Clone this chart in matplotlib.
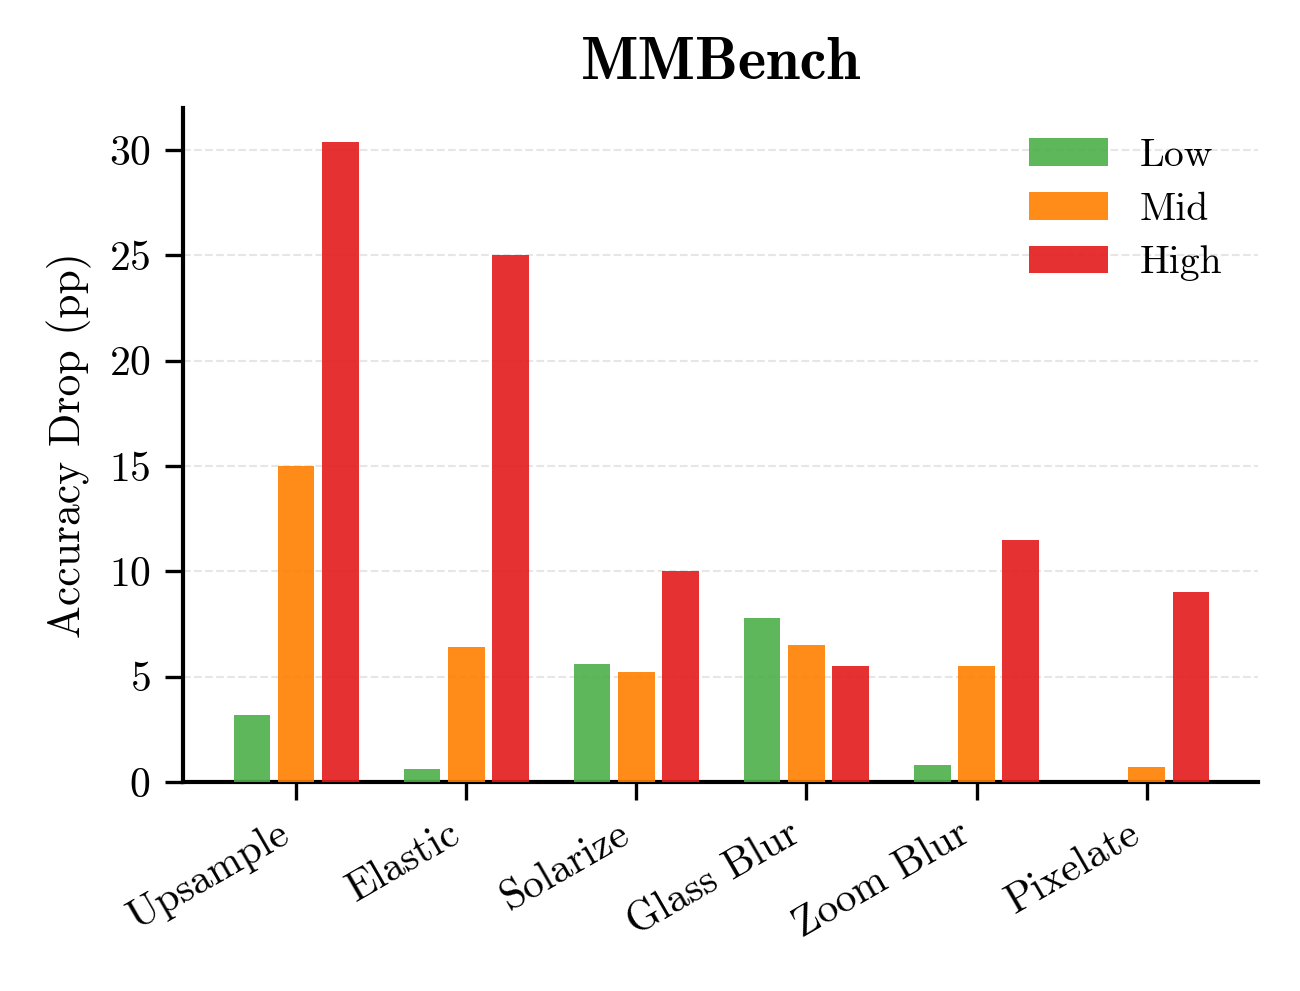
import numpy as np
import matplotlib
matplotlib.use('Agg')
import matplotlib.pyplot as plt

plt.rcParams['font.family'] = 'serif'
plt.rcParams['font.serif'] = ['cmr10']
plt.rcParams['mathtext.fontset'] = 'cm'
plt.rcParams['axes.formatter.use_mathtext'] = True

corruptions = ['Upsample', 'Elastic', 'Solarize', 'Glass Blur', 'Zoom Blur', 'Pixelate']
levels = ['Low', 'Mid', 'High']
low = [3.2, 0.6, 5.6, 7.8, 0.8, 0.0]
mid = [15.0, 6.4, 5.2, 6.5, 5.5, 0.7]
high = [30.4, 25.0, 10.0, 5.5, 11.5, 9.0]
colors = ['#4daf4a', '#ff7f00', '#e41a1c']

fig = plt.figure(figsize=(1300 / 300, 991 / 300), dpi=300)
ax = fig.add_axes([0.1408, 0.2109, 0.8269, 0.6801])

x = np.arange(len(corruptions))
width = 0.215
for i, (vals, lab) in enumerate(zip([low, mid, high], levels)):
    ax.bar(x + (i - 1) * 0.26, vals, width, color=colors[i], alpha=0.9,
           linewidth=0, label=lab, zorder=3)

ax.set_ylim(0, 32)
ax.set_xlim(-0.665, 5.655)
ax.set_yticks([0, 5, 10, 15, 20, 25, 30])
ax.set_xticks(x)
ax.set_xticklabels(corruptions, rotation=30, ha='right', fontsize=10)
ax.tick_params(axis='y', labelsize=10, length=4.3, width=0.8)
ax.tick_params(axis='x', length=4.3, width=0.8)
ax.set_ylabel('Accuracy Drop (pp)', fontsize=10.5)
ax.set_title('MMBench', fontsize=14.5, family='cmb10', pad=7)
ax.yaxis.grid(True, linestyle='--', color='#e6e6e6', linewidth=0.5, zorder=0)
ax.spines['top'].set_visible(False)
ax.spines['right'].set_visible(False)
ax.spines['left'].set_linewidth(1.0)
ax.spines['bottom'].set_linewidth(1.0)

ax.legend(loc='upper right', frameon=False, fontsize=9.5, handlelength=2.0,
          labelspacing=0.45, bbox_to_anchor=(1.0, 1.008))

fig.savefig('out.png', dpi=300)
